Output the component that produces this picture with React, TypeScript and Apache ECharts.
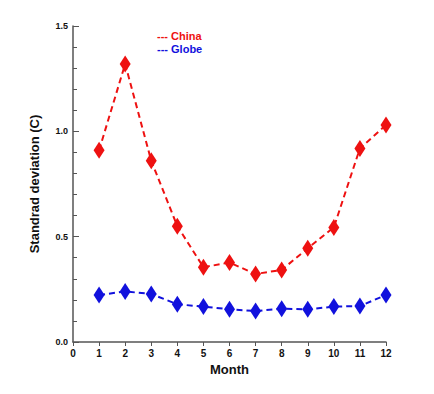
import React, { useEffect, useRef } from "react";
import * as echarts from "echarts";

const months = [1, 2, 3, 4, 5, 6, 7, 8, 9, 10, 11, 12];
const china = [0.91, 1.32, 0.86, 0.55, 0.355, 0.377, 0.323, 0.342, 0.445, 0.544, 0.919, 1.03];
const globe = [0.223, 0.24, 0.228, 0.179, 0.168, 0.155, 0.147, 0.158, 0.155, 0.168, 0.171, 0.223];
const legendItems = ["--- China", "--- Globe"];
const colors = ["#ee1111", "#1111dd"];

export default function App() {
  const ref = useRef<HTMLDivElement>(null);
  useEffect(() => {
    const chart = echarts.init(ref.current!, null, { renderer: "svg" });
    const mk = (vals: number[]) => months.map((m, i) => [m, vals[i]]);
    chart.setOption({
      animation: false,
      backgroundColor: "#ffffff",
      grid: { left: 65, right: 40, top: 18, bottom: 44, containLabel: false },
      xAxis: {
        type: "value",
        min: 0,
        max: 12,
        interval: 1,
        name: "Month",
        nameLocation: "middle",
        nameGap: 20,
        nameTextStyle: { fontFamily: "Liberation Sans", fontWeight: "bold", fontSize: 13, color: "#111", verticalAlign: "top" },
        axisLine: { lineStyle: { color: "#555", width: 1.5 } },
        axisTick: { inside: false, length: 4, lineStyle: { color: "#555" } },
        axisLabel: { fontFamily: "Liberation Sans", fontWeight: "bold", fontSize: 10, color: "#111", margin: 6 },
        splitLine: { show: false },
      },
      yAxis: {
        type: "value",
        min: 0,
        max: 1.5,
        interval: 0.5,
        name: "Standrad deviation (C)",
        nameLocation: "middle",
        nameGap: 32,
        nameTextStyle: { fontFamily: "Liberation Sans", fontWeight: "bold", fontSize: 13, color: "#111" },
        axisLine: { show: true, lineStyle: { color: "#555", width: 1.5 } },
        axisTick: { show: true, inside: true, length: 6, lineStyle: { color: "#555" } },
        minorTick: { show: true, splitNumber: 5, length: 4, lineStyle: { color: "#555" } },
        axisLabel: {
          fontFamily: "Liberation Sans",
          fontWeight: "bold",
          fontSize: 9,
          color: "#111",
          margin: 5,
          formatter: (v: number) => v.toFixed(1),
        },
        splitLine: { show: false },
      },
      series: [
        {
          name: "China",
          type: "line",
          data: mk(china),
          symbol: "diamond",
          symbolSize: [11, 17],
          itemStyle: { color: colors[0] },
          lineStyle: { color: colors[0], width: 2, type: [6, 4] },
        },
        {
          name: "Globe",
          type: "line",
          data: mk(globe),
          symbol: "diamond",
          symbolSize: [11, 17],
          itemStyle: { color: colors[1] },
          lineStyle: { color: colors[1], width: 2, type: [6, 4] },
        },
      ],
      graphic: legendItems.map((t, i) => ({
        type: "text",
        left: 149,
        top: 22 + i * 13,
        style: {
          text: t,
          fill: colors[i],
          font: "bold 11px 'Liberation Sans'",
        },
      })),
    });
    return () => chart.dispose();
  }, []);
  return <div ref={ref} style={{ width: 418, height: 378 }} />;
}
